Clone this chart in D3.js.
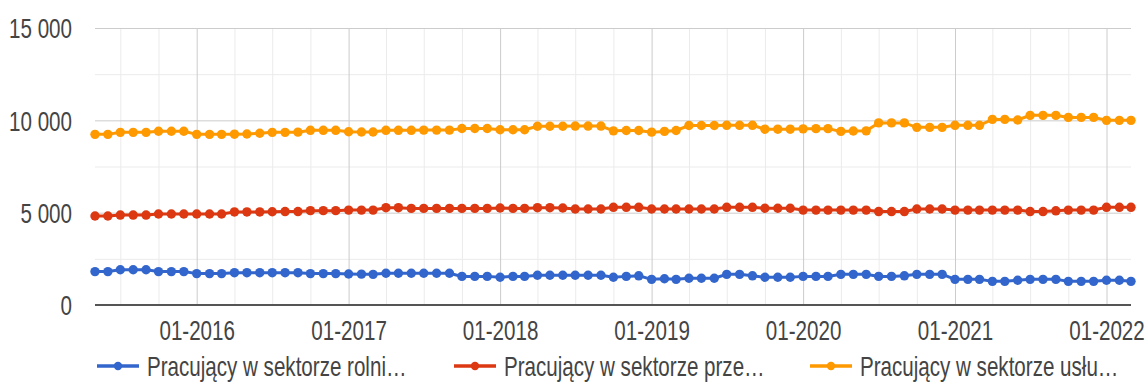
<!DOCTYPE html>
<html>
<head>
<meta charset="utf-8">
<script src="https://cdn.jsdelivr.net/npm/d3@7"></script>
<style>
  html, body { margin: 0; padding: 0; background: #fff; }
  svg { display: block; }
  text { font-family: "Liberation Sans", Arial, sans-serif; fill: #444; }
</style>
</head>
<body>
<script>
// Monthly observations, 05-2015 .. 03-2022 (thousands of people)
const months = [
  "2015-05","2015-06","2015-07","2015-08","2015-09","2015-10","2015-11","2015-12",
  "2016-01","2016-02","2016-03","2016-04","2016-05","2016-06","2016-07","2016-08","2016-09","2016-10","2016-11","2016-12",
  "2017-01","2017-02","2017-03","2017-04","2017-05","2017-06","2017-07","2017-08","2017-09","2017-10","2017-11","2017-12",
  "2018-01","2018-02","2018-03","2018-04","2018-05","2018-06","2018-07","2018-08","2018-09","2018-10","2018-11","2018-12",
  "2019-01","2019-02","2019-03","2019-04","2019-05","2019-06","2019-07","2019-08","2019-09","2019-10","2019-11","2019-12",
  "2020-01","2020-02","2020-03","2020-04","2020-05","2020-06","2020-07","2020-08","2020-09","2020-10","2020-11","2020-12",
  "2021-01","2021-02","2021-03","2021-04","2021-05","2021-06","2021-07","2021-08","2021-09","2021-10","2021-11","2021-12",
  "2022-01","2022-02","2022-03"
];

const rolnictwo = [
  1810,1810,1910,1910,1910,1810,1810,1810,
  1700,1700,1700,1750,1750,1750,1750,1750,1750,1700,1700,1700,
  1680,1670,1660,1720,1720,1720,1720,1720,1720,1550,1550,1550,
  1500,1550,1550,1610,1610,1610,1610,1610,1610,1500,1550,1580,
  1390,1420,1390,1450,1450,1450,1660,1660,1580,1500,1500,1500,
  1550,1550,1550,1660,1660,1660,1550,1550,1580,1660,1660,1660,
  1390,1390,1390,1280,1280,1340,1390,1390,1390,1280,1280,1280,
  1340,1340,1280
];

const przemysl = [
  4820,4820,4870,4870,4870,4930,4930,4930,
  4930,4930,4930,5040,5040,5040,5050,5060,5060,5110,5110,5110,
  5140,5140,5140,5270,5270,5230,5230,5230,5230,5230,5230,5230,
  5250,5230,5230,5270,5270,5250,5200,5200,5200,5290,5290,5290,
  5200,5200,5200,5200,5200,5200,5290,5290,5290,5240,5240,5240,
  5140,5140,5140,5140,5140,5140,5060,5060,5060,5200,5200,5200,
  5140,5140,5140,5140,5140,5140,5060,5060,5100,5140,5140,5140,
  5290,5290,5290
];

const uslugi = [
  9240,9240,9350,9350,9350,9410,9410,9410,
  9240,9240,9240,9250,9260,9300,9350,9350,9360,9460,9460,9460,
  9380,9370,9370,9460,9460,9460,9470,9470,9470,9560,9560,9560,
  9490,9490,9490,9680,9680,9680,9690,9690,9690,9430,9450,9450,
  9360,9400,9450,9720,9720,9720,9730,9730,9730,9520,9520,9520,
  9540,9550,9550,9400,9420,9430,9860,9860,9860,9620,9620,9620,
  9730,9730,9730,10050,10050,10020,10270,10270,10270,10160,10160,10160,
  10000,10000,10000
];

const yMajorTicks = [0, 5000, 10000, 15000];
const yMinorTicks = [2500, 7500, 12500];

const seriesNames = [
  "Pracujący w sektorze rolni…",
  "Pracujący w sektorze prze…",
  "Pracujący w sektorze usłu…"
];
const seriesColors = ["#3366cc", "#dc3912", "#ff9900"];
const seriesValues = [rolnictwo, przemysl, uslugi];

// ---- layout ----
const W = 1145, H = 382;
const plotLeft = 95, plotRight = 1131, plotTop = 28, plotBottom = 305;
const sx = 0.735;           // narrow text face
const fontSize = 28;

const parse = d3.timeParse("%Y-%m");
const dates = months.map(parse);

const x = d3.scaleTime()
  .domain([dates[0], dates[dates.length - 1]])
  .range([plotLeft, plotRight]);
const y = d3.scaleLinear().domain([0, 15000]).range([plotBottom, plotTop]);

const locale = d3.formatLocale({ decimal: ",", thousands: " ", grouping: [3], currency: ["", " zł"] });
const fmtY = locale.format(",d");

const svg = d3.select("body").append("svg").attr("width", W).attr("height", H);

// minor horizontal grid
svg.append("g")
  .attr("transform", `translate(${plotLeft},0)`)
  .call(d3.axisLeft(y).tickValues(yMinorTicks).tickSize(-(plotRight - plotLeft)).tickFormat(""))
  .call(g => g.select(".domain").remove())
  .call(g => g.selectAll("line").attr("stroke", "#ebebeb"));

// quarterly vertical grid (non-January)
const quarterTicks = d3.timeMonth.every(3).range(dates[0], d3.timeMonth.offset(dates[dates.length - 1], 1))
  .filter(d => d.getMonth() !== 0);
svg.append("g")
  .attr("transform", `translate(0,${plotBottom})`)
  .call(d3.axisBottom(x).tickValues(quarterTicks).tickSize(-(plotBottom - plotTop)).tickFormat(""))
  .call(g => g.select(".domain").remove())
  .call(g => g.selectAll("line").attr("stroke", "#ebebeb"));

// yearly vertical grid + labels
const yearTicks = d3.timeYear.range(d3.timeYear.ceil(dates[0]), d3.timeMonth.offset(dates[dates.length - 1], 1));
svg.append("g")
  .attr("transform", `translate(0,${plotBottom})`)
  .call(d3.axisBottom(x).tickValues(yearTicks).tickSize(-(plotBottom - plotTop)).tickFormat(d3.timeFormat("%m-%Y")))
  .call(g => g.select(".domain").remove())
  .call(g => g.selectAll("line").attr("stroke", "#cccccc"))
  .call(g => g.selectAll("text")
    .attr("y", 0).attr("dy", "0.35em")
    .attr("transform", `translate(0,25) scale(${sx},1)`)
    .attr("font-size", fontSize)
    .attr("fill", "#444"));

// major horizontal grid + labels
svg.append("g")
  .attr("transform", `translate(${plotLeft},0)`)
  .call(d3.axisLeft(y).tickValues(yMajorTicks).tickSize(-(plotRight - plotLeft)).tickFormat(fmtY))
  .call(g => g.select(".domain").remove())
  .call(g => g.selectAll("line").attr("stroke", "#cccccc"))
  .call(g => g.selectAll("text")
    .attr("x", 0).attr("dy", "0.35em")
    .attr("transform", `translate(-23,0) scale(${sx},1)`)
    .attr("font-size", fontSize)
    .attr("fill", "#444"));

// axis groups carry their own font attributes; let the stylesheet decide the family
svg.selectAll("g").attr("font-family", null).attr("font-size", null);

// baseline
svg.append("line")
  .attr("x1", plotLeft).attr("x2", plotRight)
  .attr("y1", y(0)).attr("y2", y(0))
  .attr("stroke", "#555").attr("stroke-width", 2);

// series
const line = d3.line().x((d, i) => x(dates[i])).y(d => y(d));
seriesValues.forEach((vals, k) => {
  const g = svg.append("g");
  g.append("path")
    .attr("d", line(vals))
    .attr("fill", "none")
    .attr("stroke", seriesColors[k])
    .attr("stroke-width", 3);
  g.selectAll("circle").data(vals).join("circle")
    .attr("cx", (d, i) => x(dates[i]))
    .attr("cy", d => y(d))
    .attr("r", 4.7)
    .attr("fill", seriesColors[k]);
});

// legend
const legendX = [97, 454, 810];
const legendY = 366;
seriesNames.forEach((name, k) => {
  const g = svg.append("g").attr("transform", `translate(${legendX[k]},${legendY})`);
  g.append("line").attr("x1", 0).attr("x2", 42).attr("y1", 0).attr("y2", 0)
    .attr("stroke", seriesColors[k]).attr("stroke-width", 3.5);
  g.append("circle").attr("cx", 21).attr("cy", 0).attr("r", 4.2).attr("fill", seriesColors[k]);
  g.append("text")
    .attr("transform", `translate(50,0) scale(${sx},1)`)
    .attr("dy", "0.35em")
    .attr("font-size", fontSize)
    .text(name);
});
</script>
</body>
</html>
